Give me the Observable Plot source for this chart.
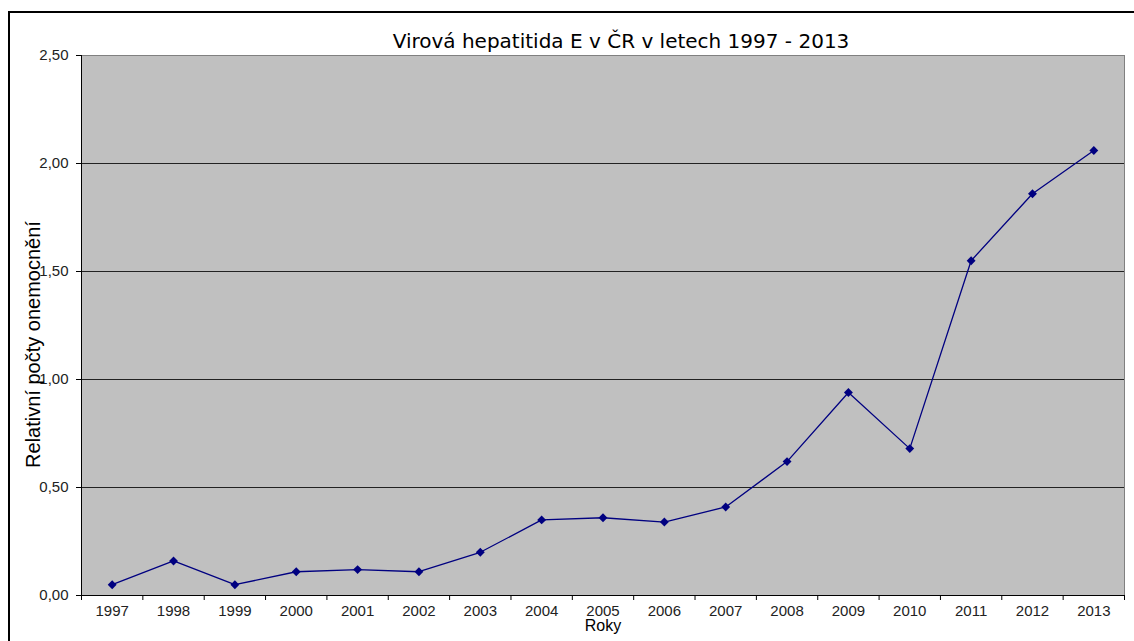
<!DOCTYPE html>
<html>
<head>
<meta charset="utf-8">
<script src="https://cdn.jsdelivr.net/npm/d3@7"></script>
<script src="https://cdn.jsdelivr.net/npm/@observablehq/plot@0.6"></script>
<style>
  html, body { margin: 0; padding: 0; background: #fff; overflow: hidden; }
  #wrap { position: relative; width: 1134px; height: 641px; overflow: hidden; }
  #border { position: absolute; left: 8px; top: 11px; width: 1200px; height: 700px; border: 2px solid #000; box-sizing: border-box; pointer-events: none; }
  #chart { position: absolute; left: 0; top: 0; }
</style>
</head>
<body>
<div id="wrap"><div id="border"></div><div id="chart"></div></div>
<script>
const years = ["1997","1998","1999","2000","2001","2002","2003","2004","2005","2006","2007","2008","2009","2010","2011","2012","2013"];
const values = [0.05,0.16,0.05,0.11,0.12,0.11,0.20,0.35,0.36,0.34,0.41,0.62,0.94,0.68,1.55,1.86,2.06];
const yTicks = [0, 0.5, 1, 1.5, 2, 2.5];
const gridLines = [0.5, 1, 1.5, 2];
const title = "Virová hepatitida E v ČR v letech 1997 - 2013";
const yLabel = "Relativní počty onemocnění";
const xLabel = "Roky";

const data = years.map((y, i) => ({year: y, pos: i + 0.5, value: values[i]}));
const boundaries = d3.range(years.length + 1);
const centers = years.map((_, i) => i + 0.5);
const fmt = d => d.toFixed(2).replace(".", ",");

const plot = Plot.plot({
  width: 1134,
  height: 641,
  marginLeft: 81,
  marginTop: 55,
  marginRight: 10,
  marginBottom: 46,
  style: {fontFamily: "'Liberation Sans', Arial, sans-serif", fontSize: "15px", color: "#000", background: "transparent", overflow: "visible"},
  x: {domain: [0, years.length], axis: null},
  y: {domain: [0, 2.5], axis: null},
  marks: [
    Plot.frame({fill: "#c0c0c0", stroke: "#808080"}),
    Plot.ruleY(gridLines, {stroke: "#222", strokeWidth: 1}),
    Plot.ruleX([0], {stroke: "#000", strokeWidth: 1}),
    Plot.ruleY([0], {stroke: "#000", strokeWidth: 1}),
    Plot.axisY({ticks: yTicks, tickFormat: fmt, tickSize: 5, tickPadding: 8, fontSize: 15, stroke: "#000", fill: "#222", label: null}),
    Plot.axisX({ticks: boundaries, tickFormat: () => "", tickSize: 5, stroke: "#000", label: null}),
    Plot.axisX({ticks: centers, tickFormat: d => years[Math.round(d - 0.5)], tickSize: 0, tickPadding: 10, fontSize: 15, fill: "#222", label: null}),
    Plot.line(data, {x: "pos", y: "value", stroke: "#000080", strokeWidth: 1.3}),
    Plot.dot(data, {x: "pos", y: "value", symbol: "diamond2", r: 4, fill: "#000080", stroke: "none"}),
    Plot.text([title], {frameAnchor: "top", lineAnchor: "bottom", dy: -8, dx: 18, text: d => d, fontFamily: "'DejaVu Sans', Verdana, sans-serif", fontSize: 20, fill: "#000"}),
    Plot.text([yLabel], {frameAnchor: "left", textAnchor: "middle", dx: -48, dy: 19, rotate: -90, text: d => d, fontSize: 20, fill: "#000"}),
    Plot.text([xLabel], {frameAnchor: "bottom", dy: 35.5, text: d => d, fontSize: 16, fill: "#000"})
  ]
});
document.getElementById("chart").appendChild(plot);
</script>
</body>
</html>
